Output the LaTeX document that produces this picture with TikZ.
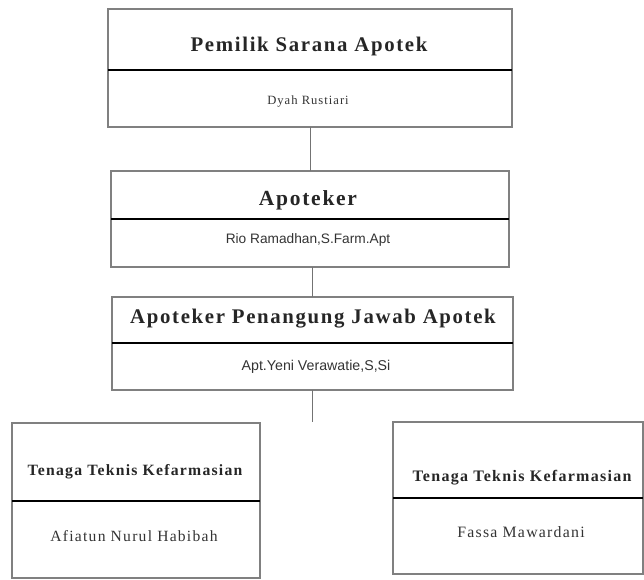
\documentclass[tikz,border=0pt]{standalone}
\usepackage{fontspec}
\setmainfont{Liberation Serif}[LetterSpace=8]
\newfontfamily\sansnama{Liberation Sans}
\usetikzlibrary{positioning}

\begin{document}
\begin{tikzpicture}
[x=1pt,y=-1pt,
kotak/.style={shape=rectangle,inner sep=0pt,outer sep=0pt,draw=black!50,line width=1.4pt},
judul/.style={anchor=base,inner sep=0pt,text=black!85,font=\bfseries},
nama/.style={anchor=base,inner sep=0pt,text=black!80},
sekat/.style={draw=black,line width=1.1pt},
garis/.style={draw=black!55,line width=1pt}]
%
\useasboundingbox (0,0) rectangle (644,579);
%
\node (k1) [kotak,minimum width=404pt,minimum height=118pt] at (310,68) {};
\node (k2) [kotak,minimum width=398pt,minimum height=96pt] at (310,219) {};
\node (k3) [kotak,minimum width=401pt,minimum height=93pt] at (312.5,343.5) {};
\node (k4) [kotak,minimum width=248pt,minimum height=155pt] at (136,500.5) {};
\node (k5) [kotak,minimum width=250pt,minimum height=152pt] at (518,498) {};
%
\draw[sekat] ([yshift=-61pt]k1.north west) -- ([yshift=-61pt]k1.north east);
\draw[sekat] ([yshift=-48pt]k2.north west) -- ([yshift=-48pt]k2.north east);
\draw[sekat] ([yshift=-46pt]k3.north west) -- ([yshift=-46pt]k3.north east);
\draw[sekat] ([yshift=-78pt]k4.north west) -- ([yshift=-78pt]k4.north east);
\draw[sekat] ([yshift=-76pt]k5.north west) -- ([yshift=-76pt]k5.north east);
%
\node (j1) [judul,font=\fontsize{20.8}{24}\selectfont\bfseries] at (309,51) {Pemilik Sarana Apotek};
\node (n1) [nama,font=\fontsize{12.6}{15}\selectfont] at (308,104) {Dyah Rustiari};
%
\node (j2) [judul,font=\fontsize{21.5}{25}\selectfont\bfseries] at (308,205) {Apoteker};
\node (n2) [nama,font=\sansnama\fontsize{13.7}{16}\selectfont] at (308,243) {Rio Ramadhan,S.Farm.Apt};
%
\node (j3) [judul,font=\fontsize{20.8}{24}\selectfont\bfseries] at (313,323) {Apoteker Penangung Jawab Apotek};
\node (n3) [nama,font=\sansnama\fontsize{14.2}{17}\selectfont] at (316,370) {Apt.Yeni Verawatie,S,Si};
%
\node (j4) [judul,font=\fontsize{15.7}{19}\selectfont\bfseries] at (135,475) {Tenaga Teknis Kefarmasian};
\node (n4) [nama,font=\fontsize{15.6}{19}\selectfont] at (134,541) {Afiatun Nurul Habibah};
%
\node (j5) [judul,font=\fontsize{16}{19}\selectfont\bfseries] at (522,481) {Tenaga Teknis Kefarmasian};
\node (n5) [nama,font=\fontsize{15.8}{19}\selectfont] at (521,537) {Fassa Mawardani};
%
\draw[garis] (k1.south) -- (k2.north);
\draw[garis] (k3.north |- k2.south) -- (k3.north);
\path (k3.south) ++(0,32) coordinate (ujung);
\draw[garis] (k3.south) -- (ujung);
\end{tikzpicture}
\end{document}
